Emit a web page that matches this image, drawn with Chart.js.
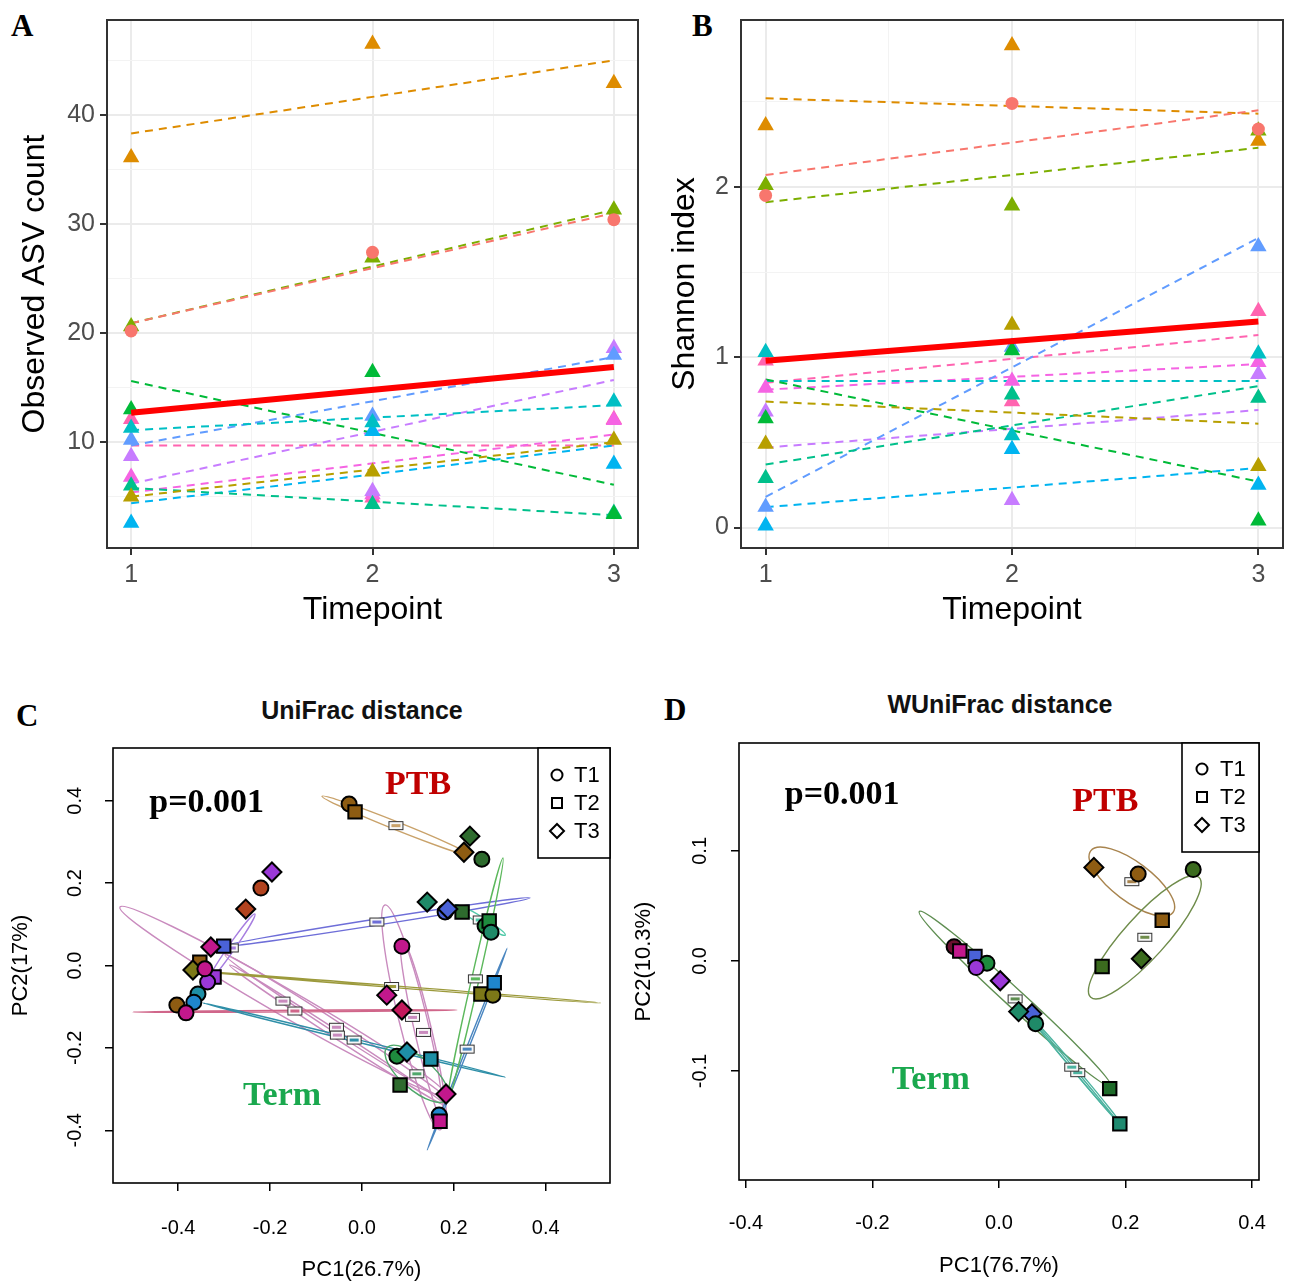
<!DOCTYPE html>
<html>
<head>
<meta charset="utf-8">
<script src="https://cdn.jsdelivr.net/npm/chart.js@4.4.1/dist/chart.umd.min.js"></script>
<style>
html,body{margin:0;padding:0;background:#fff}
body{width:1296px;height:1284px;position:relative;overflow:hidden}
canvas{position:absolute}
.lab{position:absolute;font-family:"Liberation Serif","Times New Roman",serif;font-weight:bold;font-size:31px;line-height:1;color:#000}
.ttl{position:absolute;font-family:"Liberation Sans",Arial,sans-serif;font-weight:bold;font-size:25px;line-height:1;color:#111;transform:translateX(-50%);white-space:nowrap}
</style>
</head>
<body>
<div class="lab" style="left:11px;top:10px">A</div>
<div class="lab" style="left:692px;top:10px">B</div>
<div class="lab" style="left:16px;top:700px">C</div>
<div class="lab" style="left:664px;top:694px">D</div>
<div class="ttl" style="left:362px;top:698px">UniFrac distance</div>
<div class="ttl" style="left:1000px;top:692px">WUniFrac distance</div>

<canvas id="cA" width="650" height="650" style="left:0;top:0"></canvas>
<canvas id="cB" width="646" height="650" style="left:650px;top:0"></canvas>
<canvas id="cC" width="640" height="594" style="left:0;top:690px"></canvas>
<canvas id="cD" width="676" height="594" style="left:620px;top:690px"></canvas>

<script>
'use strict';

/* ═══════════ DATA : panels A / B ═══════════ */
var timepoints=[1,2,3];
// one row per subject, ggplot hue order
var asvObserved=[[20.2,27.4,30.4],[36.1,46.5,42.9],[5.0,7.3,10.2],[20.6,26.9,31.3],[13.0,16.4,3.4],[6.0,4.3,3.5],
  [11.3,11.8,13.7],[2.6,11.0,8.0],[10.2,12.4,18.0],[8.7,5.5,18.6],[6.8,5.2,12.0],[12.1,4.9,12.1]];
var asvFitT1=[20.9,38.3,5.0,20.9,15.6,5.8,11.1,4.4,9.7,6.2,5.4,9.7];
var asvFitT3=[31.0,45.0,10.0,31.3,6.1,3.3,13.4,9.7,17.8,15.7,10.7,9.7];
var asvMeanFit=[12.7,16.9];

var shannonObserved=[[1.95,2.49,2.34],[2.36,2.83,2.27],[0.49,1.19,0.36],[2.01,1.89,2.33],[0.64,1.04,0.04],[0.29,0.78,0.76],
  [1.03,0.54,1.02],[0.01,0.46,0.25],[0.12,1.06,1.65],[0.68,0.16,0.90],[0.82,0.86,0.97],[0.98,0.74,1.27]];
var shannonFitT1=[2.07,2.52,0.74,1.91,0.87,0.37,0.86,0.12,0.18,0.47,0.81,0.85];
var shannonFitT3=[2.45,2.43,0.61,2.23,0.27,0.83,0.86,0.35,1.70,0.69,0.96,1.13];
var shannonMeanFit=[0.98,1.21];

var asvTicks=[5,10,15,20,25,30,35,40,45];
var shannonTicks=[0,0.5,1,1.5,2,2.5];
var timeTicks=[1,1.5,2,2.5,3];

/* ═══════════ DATA : panels C / D  ([PC1, PC2, timepoint]) ═══════════ */
var uniBrown=[[-0.028,0.392,1],[-0.015,0.373,2],[0.222,0.275,3],[-0.353,0.008,2],[-0.403,-0.096,1]];
var uniDarkGreen=[[0.261,0.258,1],[0.235,0.314,3],[0.218,0.130,2],[0.083,-0.290,2]];
var uniGreen=[[0.268,0.096,1],[0.277,0.108,2],[0.076,-0.220,1]];
var uniSeaGreen=[[0.142,0.154,3],[0.281,0.081,1]];
var uniBlue=[[0.181,0.130,1],[0.187,0.137,3],[-0.301,0.047,2]];
var uniPurple=[[-0.196,0.227,3],[-0.322,-0.028,2],[-0.336,-0.040,1]];
var uniRust=[[-0.220,0.188,1],[-0.253,0.137,3]];
var uniOlive=[[-0.368,-0.011,3],[0.259,-0.069,2],[0.285,-0.072,1]];
var uniTeal=[[-0.357,-0.069,1],[0.098,-0.210,3],[0.150,-0.227,2]];
var uniAzure=[[-0.366,-0.089,1],[0.288,-0.042,2],[0.168,-0.363,1]];
var uniCrimson=[[0.087,-0.108,3]];
var uniMagenta=[[-0.329,0.045,3],[0.087,0.047,1],[-0.342,-0.008,1],[-0.383,-0.115,1],[0.054,-0.072,3],[0.183,-0.312,3],[0.170,-0.378,2]];
// subject ellipses: major axis ends (x1,y1,x2,y2) and minor/major ratio
var uniEllipses=[[-0.527,0.142,0.183,-0.315,0.07],[-0.298,0.026,0.187,-0.326,0.04],[-0.288,0.001,0.181,-0.339,0.03],
  [0.050,0.147,0.170,-0.399,0.12],[0.087,0.062,0.181,-0.387,0.09],[-0.301,0.047,0.366,0.164,0.02],
  [-0.390,-0.011,0.519,-0.091,0.004],[-0.499,-0.113,0.207,-0.108,0.005],[-0.346,-0.091,0.312,-0.271,0.008],
  [0.142,-0.448,0.316,0.042,0.01],[0.307,0.261,0.187,-0.326,0.03],[-0.087,0.411,0.235,0.268,0.05],
  [-0.336,-0.040,-0.233,0.125,0.08],[0.054,-0.200,0.185,-0.326,0.4],[0.203,0.147,0.312,0.074,0.12]];

var wuniBrown=[[0.150,0.085,3],[0.220,0.079,1],[0.258,0.037,2]];
var wuniOliveGreen=[[0.307,0.083,1],[0.225,0.002,3],[0.163,-0.005,2]];
var wuniWine=[[-0.071,0.013,1]];
var wuniMagenta=[[-0.062,0.009,2]];
var wuniBlue=[[-0.038,0.004,2],[0.052,-0.048,3]];
var wuniGreen=[[-0.019,-0.002,1]];
var wuniPurple=[[-0.036,-0.006,1],[0.002,-0.018,3]];
var wuniSeaGreen=[[0.031,-0.046,3],[0.058,-0.057,1]];
var wuniDarkGreen=[[0.175,-0.116,2]];
var wuniTealGreen=[[0.191,-0.148,2]];
var wuniEllipses=[[0.145,0.100,0.275,0.044,0.38],[0.145,-0.033,0.316,0.076,0.26],[-0.126,0.045,0.177,-0.114,0.07],
  [0.055,-0.054,0.194,-0.149,0.03],[0.040,-0.045,0.190,-0.148,0.015]];

var uniXTicks=[-0.4,-0.2,0,0.2,0.4],uniYTicks=[-0.4,-0.2,0,0.2,0.4];
var wuniXTicks=[-0.4,-0.2,0,0.2,0.4],wuniYTicks=[-0.1,0,0.1];

/* ═══════════ STYLE ═══════════ */
var HUE=['#F8766D','#DE8C00','#B79F00','#7CAE00','#00BA38','#00C08B','#00BFC4','#00B4F0','#619CFF','#C77CFF','#F564E3','#FF64B0'];
var SANS='"Liberation Sans", Arial, sans-serif',SERIF='"Liberation Serif", "Times New Roman", serif';
Chart.defaults.font.family=SANS;
var SHAPE={1:'circle',2:'rect',3:'rectRot'};

/* ═══════════ A / B : ggplot-like panels ═══════════ */
var ggFrame={id:'ggFrame',afterDatasetsDraw:function(c){var a=c.chartArea,x=c.ctx;
  x.save();x.strokeStyle='#333';x.lineWidth=2;x.strokeRect(a.left,a.top,a.right-a.left,a.bottom-a.top);x.restore()}};

function mkTrend(id,obs,f1,f3,mean,yMin,yMax,yTicks,isMajor,yTitle,yWidth){
  var ds=[];
  ds.push({type:'line',data:[{x:1,y:mean[0]},{x:3,y:mean[1]}],borderColor:'#FF0000',borderWidth:6,pointRadius:0,order:0});
  obs.forEach(function(row,i){
    ds.push({type:'scatter',data:timepoints.map(function(t,j){return{x:t,y:row[j]}}),pointStyle:i===0?'circle':'triangle',
      pointRadius:i===0?6.5:9.5,pointBackgroundColor:HUE[i],pointBorderWidth:0,order:1})});
  obs.forEach(function(row,i){
    ds.push({type:'line',data:[{x:1,y:f1[i]},{x:3,y:f3[i]}],borderColor:HUE[i],borderWidth:2,borderDash:[8,6],pointRadius:0,order:2})});
  return new Chart(document.getElementById(id),{type:'scatter',data:{datasets:ds},plugins:[ggFrame],
    options:{responsive:false,animation:false,events:[],layout:{padding:{top:10,right:id==='cA'?12:13,left:0,bottom:0}},
      plugins:{legend:{display:false},tooltip:{enabled:false}},
      scales:{
        x:{type:'linear',min:0.9,max:3.1,afterBuildTicks:function(s){s.ticks=timeTicks.map(function(v){return{value:v}})},
          afterFit:function(s){s.height=102},border:{display:false},
          grid:{color:function(c){return Number.isInteger(c.tick.value)?'#EBEBEB':'#F3F3F3'},lineWidth:function(c){return Number.isInteger(c.tick.value)?2:1},
            tickColor:function(c){return Number.isInteger(c.tick.value)?'#333':'rgba(0,0,0,0)'},tickLength:7},
          ticks:{callback:function(v){return Number.isInteger(v)?String(v):''},color:'#4D4D4D',font:{size:25},padding:5,maxRotation:0,autoSkip:false},
          title:{display:true,text:'Timepoint',color:'#000',font:{size:32},padding:{top:0,bottom:21}}},
        y:{type:'linear',min:yMin,max:yMax,afterBuildTicks:function(s){s.ticks=yTicks.map(function(v){return{value:v}})},
          afterFit:function(s){s.width=yWidth},border:{display:false},
          grid:{color:function(c){return isMajor(c.tick.value)?'#EBEBEB':'#F3F3F3'},lineWidth:function(c){return isMajor(c.tick.value)?2:1},
            tickColor:function(c){return isMajor(c.tick.value)?'#333':'rgba(0,0,0,0)'},tickLength:7},
          ticks:{callback:function(v){return isMajor(v)?String(v):''},color:'#4D4D4D',font:{size:25},padding:5,autoSkip:false},
          title:{display:true,text:yTitle,color:'#000',font:{size:32},padding:{top:16,bottom:0}}}}}})}

mkTrend('cA',asvObserved,asvFitT1,asvFitT3,asvMeanFit,0.3,48.7,asvTicks,function(v){return v%10===0},'Observed ASV count',107);
mkTrend('cB',shannonObserved,shannonFitT1,shannonFitT3,shannonMeanFit,-0.12,2.98,shannonTicks,function(v){return Number.isInteger(v)},'Shannon index',91);

/* ═══════════ C / D : ordination panels ═══════════ */
function ordPlugin(o){return{id:'ord',
  beforeDatasetsDraw:function(c){var x=c.ctx,a=c.chartArea,sx=c.scales.x,sy=c.scales.y;
    x.save();x.beginPath();x.rect(a.left,a.top,a.right-a.left,a.bottom-a.top);x.clip();
    o.ellipses.forEach(function(e,i){
      var x1=sx.getPixelForValue(e[0]),y1=sy.getPixelForValue(e[1]),x2=sx.getPixelForValue(e[2]),y2=sy.getPixelForValue(e[3]);
      var r=Math.hypot(x2-x1,y2-y1)/2;
      x.beginPath();x.ellipse((x1+x2)/2,(y1+y2)/2,r,Math.max(r*e[4],0.7),Math.atan2(y2-y1,x2-x1),0,2*Math.PI);
      x.strokeStyle=o.ellColors[i];x.lineWidth=1.4;x.stroke()});
    /* subject label boxes at the ellipse centres */
    o.ellipses.forEach(function(e,i){
      var cx=(sx.getPixelForValue(e[0])+sx.getPixelForValue(e[2]))/2,cy=(sy.getPixelForValue(e[1])+sy.getPixelForValue(e[3]))/2;
      x.fillStyle='#F7F7F7';x.fillRect(cx-7,cy-4,14,8);x.strokeStyle='#333';x.lineWidth=1;x.strokeRect(cx-7,cy-4,14,8);
      x.fillStyle=o.ellColors[i];x.fillRect(cx-4.5,cy-1.5,9,3)});
    x.restore()},
  afterDraw:function(c){var x=c.ctx,a=c.chartArea,sx=c.scales.x,sy=c.scales.y;
    x.save();
    x.strokeStyle='#000';x.lineWidth=1.6;x.strokeRect(a.left,a.top,a.right-a.left,a.bottom-a.top);
    /* rotated y tick labels, base-R style */
    x.fillStyle='#000';x.font='20px '+SANS;x.textAlign='center';x.textBaseline='middle';
    o.yTicks.forEach(function(v){x.save();x.translate(a.left-o.yLabGap,sy.getPixelForValue(v));x.rotate(-Math.PI/2);x.fillText(v.toFixed(1),0,0);x.restore()});
    /* annotations */
    o.notes.forEach(function(n){x.font='bold 34px '+SERIF;x.fillStyle=n.color;x.fillText(n.text,sx.getPixelForValue(n.x),sy.getPixelForValue(n.y))});
    /* legend */
    var L=o.legend,lx=a.right-L.w,ly=a.top;
    x.fillStyle='#fff';x.fillRect(lx,ly,L.w,L.h);x.strokeStyle='#000';x.lineWidth=1.6;x.strokeRect(lx,ly,L.w,L.h);
    ['T1','T2','T3'].forEach(function(t,i){var cy=ly+L.first+i*28,cx=lx+L.sym;
      x.lineWidth=2;x.strokeStyle='#000';x.beginPath();
      if(i===0)x.arc(cx,cy,5.5,0,2*Math.PI);
      else if(i===1)x.rect(cx-5,cy-5,10,10);
      else{x.moveTo(cx,cy-7);x.lineTo(cx+7,cy);x.lineTo(cx,cy+7);x.lineTo(cx-7,cy);x.closePath()}
      x.stroke();x.fillStyle='#000';x.font='22px '+SANS;x.textAlign='left';x.fillText(t,lx+L.txt,cy+1)});
    x.restore()}}}

function ordSet(pts,color,i){
  return{type:'scatter',order:-i,data:pts.map(function(p){return{x:p[0],y:p[1],t:p[2]}}),
    pointStyle:function(c){return SHAPE[c.raw.t]},pointRadius:function(c){return c.raw.t===1?7.5:9.5},
    pointBackgroundColor:color,pointBorderColor:'#000',pointBorderWidth:2}}

function mkOrd(id,groups,colors,o){
  var ds=groups.map(function(g,i){return ordSet(g,colors[i],i)});
  return new Chart(document.getElementById(id),{type:'scatter',data:{datasets:ds},plugins:[ordPlugin(o)],
    options:{responsive:false,animation:false,events:[],layout:{padding:{top:o.pad.top,right:o.pad.right,left:0,bottom:0}},
      plugins:{legend:{display:false},tooltip:{enabled:false}},clip:false,
      scales:{
        x:{type:'linear',min:o.xr[0],max:o.xr[1],afterBuildTicks:function(s){s.ticks=o.xTicks.map(function(v){return{value:v}})},
          afterFit:function(s){s.height=o.xH},border:{display:false},
          grid:{drawOnChartArea:false,color:'#000',tickColor:'#000',tickLength:8,lineWidth:1.5},
          ticks:{callback:function(v){return v.toFixed(1)},color:'#000',font:{size:20},padding:o.xPad,maxRotation:0,autoSkip:false},
          title:{display:true,text:o.xTitle,color:'#000',font:{size:22},padding:{top:0,bottom:o.xtPad}}},
        y:{type:'linear',min:o.yr[0],max:o.yr[1],afterBuildTicks:function(s){s.ticks=o.yTicks.map(function(v){return{value:v}})},
          afterFit:function(s){s.width=o.yW},border:{display:false},
          grid:{drawOnChartArea:false,color:'#000',tickColor:'#000',tickLength:8,lineWidth:1.5},
          ticks:{display:false},
          title:{display:true,text:o.yTitle,color:'#000',font:{size:22},padding:{top:o.ytPad,bottom:0}}}}}})}

mkOrd('cC',
  [uniBrown,uniDarkGreen,uniGreen,uniSeaGreen,uniBlue,uniPurple,uniRust,uniOlive,uniTeal,uniAzure,uniCrimson,uniMagenta],
  ['#8E5C12','#2E6B2E','#1E8B3E','#1F8A68','#4A62D8','#9B38D8','#B2431F','#7C7818','#1E8FA6','#1F86CC','#C4185C','#C2188C'],
  {ellipses:uniEllipses,
   ellColors:['#C98BBE','#C98BBE','#C98BBE','#C98BBE','#C98BBE','#6E6ED8','#9C9A3C','#D0668A','#2F8FA8','#4A86C0','#5CB85C','#C9A26A','#A77EE0','#4FA86A','#4FC9A8'],
   xr:[-0.542,0.540],yr:[-0.528,0.528],xTicks:uniXTicks,yTicks:uniYTicks,
   pad:{top:58,right:30},xH:101,yW:113,xPad:25,xtPad:1,ytPad:8,yLabGap:38,
   xTitle:'PC1(26.7%)',yTitle:'PC2(17%)',
   notes:[{text:'p=0.001',x:-0.338,y:0.394,color:'#000'},{text:'PTB',x:0.122,y:0.438,color:'#C00000'},{text:'Term',x:-0.174,y:-0.317,color:'#1AA84E'}],
   legend:{w:72,h:110,first:27,sym:19,txt:36}});

mkOrd('cD',
  [wuniBrown,wuniOliveGreen,wuniWine,wuniMagenta,wuniBlue,wuniGreen,wuniPurple,wuniSeaGreen,wuniDarkGreen,wuniTealGreen],
  ['#8E5C12','#3B6B1E','#6B1030','#C2188C','#4A62D8','#1E8B3E','#9B38D8','#1F8A68','#1E6B2A','#1F8A70'],
  {ellipses:wuniEllipses,
   ellColors:['#A8844E','#6F8C4B','#5F8E52','#4DB3A0','#4DB3A0'],
   xr:[-0.411,0.411],yr:[-0.199,0.198],xTicks:wuniXTicks,yTicks:wuniYTicks,
   pad:{top:53,right:37},xH:104,yW:119,xPad:23,xtPad:5,ytPad:11,yLabGap:39,
   xTitle:'PC1(76.7%)',yTitle:'PC2(10.3%)',
   notes:[{text:'p=0.001',x:-0.248,y:0.151,color:'#000'},{text:'PTB',x:0.168,y:0.144,color:'#C00000'},{text:'Term',x:-0.108,y:-0.108,color:'#1AA84E'}],
   legend:{w:77,h:109,first:26,sym:20,txt:38}});
</script>
</body>
</html>
